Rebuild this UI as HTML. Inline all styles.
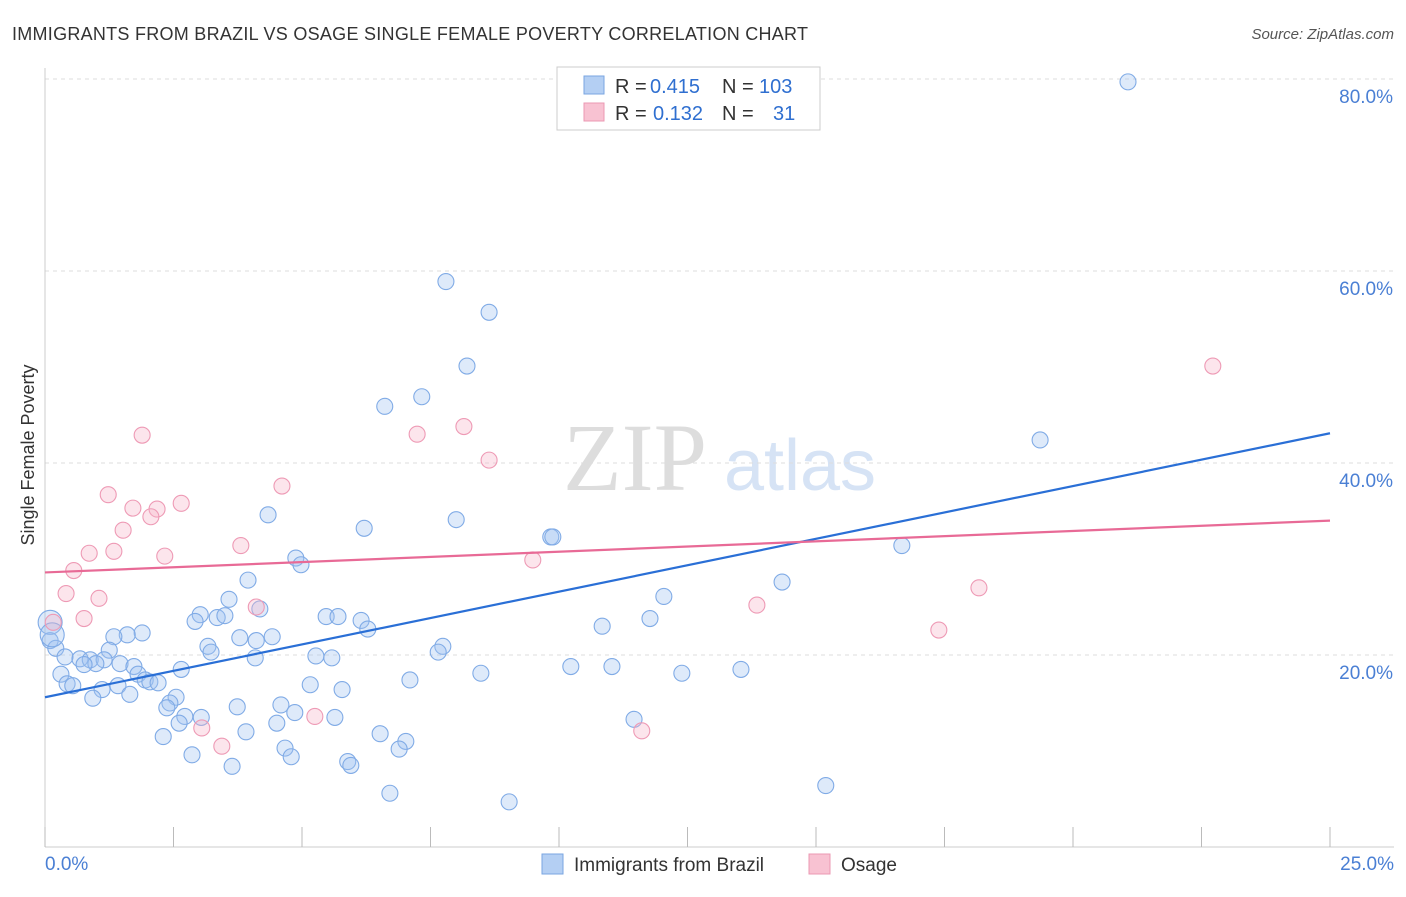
<!DOCTYPE html>
<html><head><meta charset="utf-8"><style>
body{margin:0;background:#fff;font-family:"Liberation Sans",sans-serif;}
svg text{font-family:"Liberation Sans",sans-serif;}
</style></head><body>
<svg id="chart" width="1406" height="892" xmlns="http://www.w3.org/2000/svg">
<text x="12" y="40" font-size="18" fill="#333" textLength="796" lengthAdjust="spacing">IMMIGRANTS FROM BRAZIL VS OSAGE SINGLE FEMALE POVERTY CORRELATION CHART</text>
<text x="1394" y="39" font-size="15" fill="#555" text-anchor="end" font-style="italic">Source: ZipAtlas.com</text>
<text x="34" y="455" font-size="18" fill="#333" text-anchor="middle" transform="rotate(-90 34 455)">Single Female Poverty</text>
<g>
<text x="635" y="490" font-size="96" fill="#ddd" text-anchor="middle" font-family="Liberation Serif" style="font-family:'Liberation Serif',serif">ZIP</text>
<text x="800" y="490" font-size="72" fill="#d6e3f5" text-anchor="middle">atlas</text>
</g>
<g id="grid"></g><g id="axes"></g><g id="pts"></g><g id="lines"></g>
<g>
<rect x="557" y="67" width="263" height="63" fill="#fff" stroke="#ccc"/>
<rect x="584" y="76" width="20" height="18" fill="#b4cff3" stroke="#7aa6e2"/>
<rect x="584" y="103" width="20" height="18" fill="#f8c2d2" stroke="#eb98b3"/>
<text x="615" y="93" font-size="20" fill="#333">R =</text>
<text x="650" y="93" font-size="20" fill="#2f6fd0">0.415</text>
<text x="722" y="93" font-size="20" fill="#333">N =</text>
<text x="759" y="93" font-size="20" fill="#2f6fd0">103</text>
<text x="615" y="120" font-size="20" fill="#333">R =</text>
<text x="653" y="120" font-size="20" fill="#2f6fd0">0.132</text>
<text x="722" y="120" font-size="20" fill="#333">N =</text>
<text x="773" y="120" font-size="20" fill="#2f6fd0">31</text>
</g>
<g>
<rect x="542" y="854" width="21" height="20" fill="#b4cff3" stroke="#7aa6e2"/>
<text x="574" y="871" font-size="19" fill="#333">Immigrants from Brazil</text>
<rect x="809" y="854" width="21" height="20" fill="#f8c2d2" stroke="#eb98b3"/>
<text x="841" y="871" font-size="19" fill="#333">Osage</text>
</g>
</svg>
<script>
const xTicks=[0,2.5,5,7.5,10,12.5,15,17.5,20,22.5,25];
const yTicks=[20,40,60,80];
const yTickLabels=["20.0%","40.0%","60.0%","80.0%"];
const xTickLabels=["0.0%","25.0%"];
const brazilPx=[[1128,82],[446,282],[489,312],[467,366],[422,397],[385,406],[1040,440],[268,515],[456,520],[364,528],[551,537],[553,537],[902,546],[296,558],[301,565],[248,580],[782,582],[664,596],[229,599],[260,609],[200,615],[195,621],[217,618],[225,616],[326,617],[338,617],[361,620],[368,629],[650,619],[602,626],[142,633],[127,635],[114,637],[240,638],[256,641],[272,637],[208,646],[211,652],[443,646],[438,652],[109,650],[50,641],[56,648],[65,657],[80,659],[90,660],[104,660],[96,664],[84,665],[120,664],[134,667],[255,658],[316,656],[332,658],[181,669],[571,667],[612,667],[741,669],[682,673],[481,673],[138,674],[61,674],[145,680],[150,682],[158,683],[67,684],[73,686],[410,680],[310,685],[118,686],[102,690],[342,690],[130,694],[93,698],[176,697],[170,703],[167,708],[237,707],[281,705],[185,716],[201,717],[295,713],[335,717],[179,723],[277,723],[634,719],[246,732],[163,737],[380,734],[406,741],[285,748],[399,749],[192,755],[291,757],[348,762],[351,765],[232,766],[826,786],[390,793],[509,802],[50,622],[52,635]];
const osagePx=[[1213,366],[142,435],[464,427],[417,434],[489,460],[282,486],[108,495],[181,503],[157,509],[133,508],[151,517],[123,530],[241,546],[89,553],[114,551],[165,556],[533,560],[74,571],[66,594],[99,598],[979,588],[256,607],[757,605],[84,619],[939,630],[53,622],[315,716],[202,728],[642,731],[222,746]];
const brazilX=brazilPx.map(p=>+((p[0]-45)/51.4).toFixed(2));
const brazilY=brazilPx.map(p=>+((847-p[1])/9.6).toFixed(1));
const osageX=osagePx.map(p=>+((p[0]-45)/51.4).toFixed(2));
const osageY=osagePx.map(p=>+((847-p[1])/9.6).toFixed(1));
const brazilTrend=[15.6,43.1];
const osageTrend=[28.6,34.0];
const X=v=>45+v*51.4, Y=v=>847-v*9.6;
const NS="http://www.w3.org/2000/svg";
function mk(tag,parent,attrs){const e=document.createElementNS(NS,tag);for(const k in attrs)e.setAttribute(k,attrs[k]);document.getElementById(parent).appendChild(e);return e;}
yTicks.forEach((t,i)=>{
 const g=mk('line','grid',{x1:45,x2:1394,y1:Y(t),y2:Y(t),stroke:'#ddd','stroke-dasharray':'4,4'});
 
 
 const l=mk('text','axes',{x:1393,y:Y(t)+24,'font-size':19,fill:'#4a7fd4','text-anchor':'end'});l.textContent=yTickLabels[i];
 
 
});
const ax=mk('line','axes',{x1:45,x2:45,y1:68,y2:847,stroke:'#ccc'});


const bx=mk('line','axes',{x1:45,x2:1394,y1:847,y2:847,stroke:'#ccc'});


xTicks.forEach(t=>{const e=mk('line','axes',{x1:X(t),x2:X(t),y1:827,y2:847,stroke:'#bbb'});
 
 });
[[0,'start',45],[1,'end',1394]].forEach(([i,a,x])=>{const e=mk('text','axes',{x:x,y:870,'font-size':19,fill:'#4a7fd4','text-anchor':a});e.textContent=xTickLabels[i];
 
 });
brazilX.forEach((x,i)=>{const r=(i>=brazilX.length-2)?12:8;
 const c=mk('circle','pts',{cx:X(x),cy:Y(brazilY[i]),r:r,fill:'rgba(160,195,240,0.35)',stroke:'#80abe6','stroke-width':1.1});
 
 });
osageX.forEach((x,i)=>{const c=mk('circle','pts',{cx:X(x),cy:Y(osageY[i]),r:8,fill:'rgba(246,180,200,0.35)',stroke:'#ee9ab5','stroke-width':1.1});
 
 });
const l1=mk('line','lines',{x1:X(0),x2:X(25),y1:Y(brazilTrend[0]),y2:Y(brazilTrend[1]),stroke:'#2a6fd6','stroke-width':2.2});


const l2=mk('line','lines',{x1:X(0),x2:X(25),y1:Y(osageTrend[0]),y2:Y(osageTrend[1]),stroke:'#e86a96','stroke-width':2.2});


</script>
</body></html>
